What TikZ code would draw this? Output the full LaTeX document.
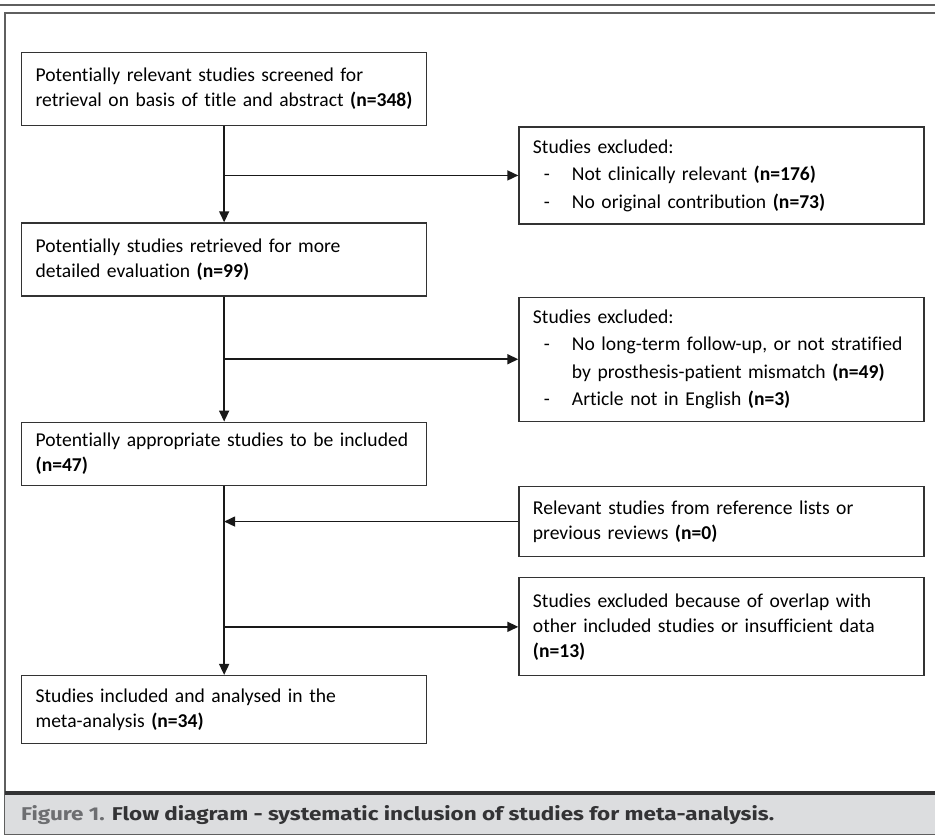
\documentclass[tikz,border=0pt]{standalone}
\usepackage{fontspec}
\usepackage{graphicx}
\setmainfont{Carlito}[Ligatures=NoCommon]
\newfontfamily\capfont{Fira Sans}
\usetikzlibrary{positioning,arrows.meta}

\definecolor{framegray}{HTML}{5F5F5F}
\definecolor{capband}{HTML}{DCDDDF}
\definecolor{capgray}{HTML}{6D6E71}
\definecolor{captext}{HTML}{333335}

\newcommand{\exitem}[1]{\hspace*{11pt}\makebox[28pt][l]{-}\mbox{#1}}

\begin{document}
\begin{tikzpicture}[x=1pt, y=1pt,
	node distance = 20pt,
	box/.style = {rectangle, draw=black!80, line width=1.3pt, fill=white,
		text width=377pt, inner xsep=14pt, inner ysep=0pt,
		align=left, font=\fontsize{19.6}{25}\selectfont},
	listbox/.style = {box, font=\fontsize{19.6}{27.5}\selectfont},
	flow/.style = {line width=1.6pt, black!90,
		-{Triangle[length=11pt,width=10pt]}},
	]
	\useasboundingbox[fill=white] (0,0) rectangle (935,836);
	
	% frame and caption
	\draw[framegray, line width=1.8pt] (0,831) -- (935,831);
	\draw[framegray, line width=1.5pt] (945,823) -- (5,823) -- (5,2) -- (945,2);
	\fill[capband] (5,2.5) rectangle (945,43);
	\draw[captext, line width=3.5pt] (5,43) -- (945,43);
	\node[anchor=west, inner sep=0pt, text=captext,
		font=\capfont\bfseries\fontsize{18.5}{20}\selectfont] (caption) at (21,21)
		{\scalebox{1.215}[1]{\textcolor{capgray}{Figure 1.} Flow diagram - systematic inclusion of studies for meta-analysis.}};
	
	% left column
	\node[box, minimum height=73pt, anchor=north west] (screened) at (21,784)
		{Potentially relevant studies screened for\\
		\mbox{retrieval on basis of title and abstract \textbf{(n=348)}}};
	\node[box, minimum height=73pt, below=96pt of screened] (retrieved)
		{Potentially studies retrieved for more\\
		detailed evaluation \textbf{(n=99)}};
	\node[box, minimum height=63pt, below=125pt of retrieved] (appropriate)
		{\mbox{Potentially appropriate studies to be included}\\
		\textbf{(n=47)}};
	\node[box, minimum height=68pt, below=189pt of appropriate] (included)
		{Studies included and analysed in the\\
		meta-analysis \textbf{(n=34)}};
	
	% right column
	\node[listbox, minimum height=97pt, below right=0pt and 91pt of screened] (exclA)
		{Studies excluded:\\
		\exitem{Not clinically relevant \textbf{(n=176)}}\\
		\exitem{No original contribution \textbf{(n=73)}}};
	\node[listbox, minimum height=124pt, below right=0pt and 91pt of retrieved] (exclB)
		{Studies excluded:\\
		\exitem{No long-term follow-up, or not stratified}\\
		\hspace*{39pt}\mbox{by prosthesis-patient mismatch \textbf{(n=49)}}\\
		\exitem{Article not in English \textbf{(n=3)}}};
	\node[box, minimum height=70pt, below right=0pt and 91pt of appropriate] (extra)
		{Relevant studies from reference lists or\\
		previous reviews \textbf{(n=0)}};
	\node[box, minimum height=98pt, below=20pt of extra] (overlap)
		{\mbox{Studies excluded because of overlap with}\\
		\mbox{other included studies or insufficient data}\\
		\textbf{(n=13)}};
	
	% connectors
	\draw[flow] (screened.south) -- (retrieved.north);
	\draw[flow] (exclA.west -| screened.south) -- (exclA.west);
	\draw[flow] (retrieved.south) -- (appropriate.north);
	\draw[flow] (exclB.west -| retrieved.south) -- (exclB.west);
	\draw[flow] (appropriate.south) -- (included.north);
	\draw[flow] (extra.west) -- (extra.west -| appropriate.south);
	\draw[flow] (overlap.west -| appropriate.south) -- (overlap.west);
\end{tikzpicture}
\end{document}
